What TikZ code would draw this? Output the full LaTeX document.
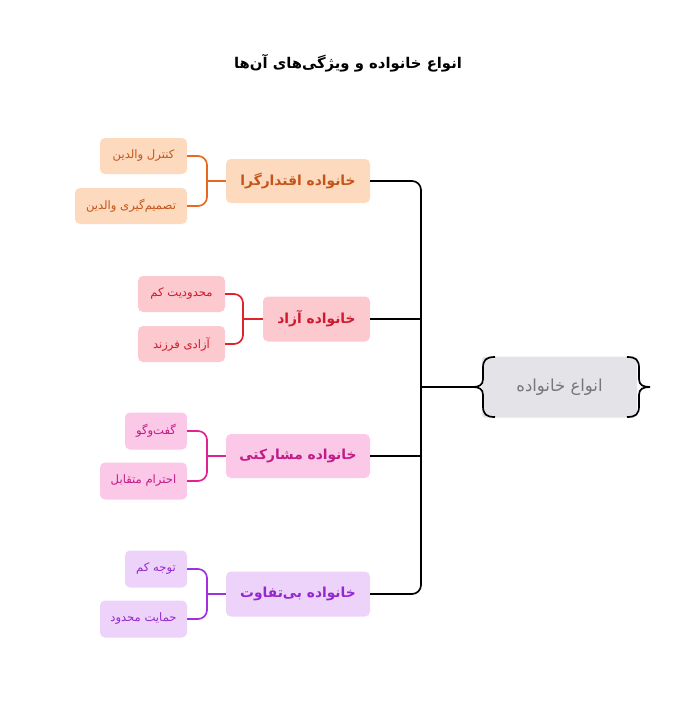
\documentclass[tikz,border=0pt]{standalone}
\usepackage{fontspec}
\newfontfamily\arabicfont[Script=Arabic]{DejaVu Sans}
\TeXXeTstate=1
\definecolor{oFill}{HTML}{FDD9BE}
\definecolor{oText}{HTML}{C4551A}
\definecolor{oLine}{HTML}{E8681E}
\definecolor{rFill}{HTML}{FBC9CE}
\definecolor{rText}{HTML}{CF1A2E}
\definecolor{rLine}{HTML}{E0222F}
\definecolor{mFill}{HTML}{FBC8E8}
\definecolor{mText}{HTML}{C21A86}
\definecolor{mLine}{HTML}{E02295}
\definecolor{pFill}{HTML}{EDD3FA}
\definecolor{pText}{HTML}{9428CF}
\definecolor{pLine}{HTML}{A22FE0}
\definecolor{rootFill}{HTML}{E4E4E8}
\definecolor{rootText}{HTML}{777777}
\tikzset{
  box/.style={rounded corners=5pt, inner sep=0pt, align=center},
  mainbox/.style={box, font=\arabicfont\bfseries\fontsize{13.8}{16}\selectfont},
  leafbox/.style={box, font=\arabicfont\fontsize{11.6}{14}\selectfont},
  link/.style={line width=1.7pt, rounded corners=9pt},
}
\newcommand{\rtl}[1]{\beginR #1\endR}
\begin{document}
\begin{tikzpicture}[x=1pt,y=-1pt]
\useasboundingbox (0,0) rectangle (700,725);
% title
\node[font=\arabicfont\bfseries\fontsize{14.8}{17}\selectfont] (title) at (348,63) {\rtl{انواع خانواده و ویژگی‌های آن‌ها}};
% root
\node[box, fill=rootFill, text=rootText, minimum width=155pt, minimum height=61pt, rounded corners=3pt, font=\arabicfont\fontsize{16.5}{19}\selectfont] (root) at (559.5,387) {\rtl{انواع خانواده}};
% braces
\coordinate (lb) at (473,387);
\coordinate (rb) at (650,387);
\draw[line width=1.7pt] (495,357) .. controls (486,357) and (483,360) .. (483,368) -- (483,379) .. controls (483,385) and (479,387) .. (lb) .. controls (479,387) and (483,389) .. (483,395) -- (483,406) .. controls (483,414) and (486,417) .. (495,417);
\draw[line width=1.7pt] (627,357) .. controls (636,357) and (639,360) .. (639,368) -- (639,379) .. controls (639,385) and (643,387) .. (rb) .. controls (643,387) and (639,389) .. (639,395) -- (639,406) .. controls (639,414) and (636,417) .. (627,417);
% level 1
\node[mainbox, fill=oFill, text=oText, minimum width=144pt, minimum height=44pt] (n1) at (298,181) {\rtl{خانواده اقتدارگرا}};
\node[mainbox, fill=rFill, text=rText, minimum width=107pt, minimum height=45pt] (n2) at (316.5,319) {\rtl{خانواده آزاد}};
\node[mainbox, fill=mFill, text=mText, minimum width=144pt, minimum height=44pt] (n3) at (298,456) {\rtl{خانواده مشارکتی}};
\node[mainbox, fill=pFill, text=pText, minimum width=144pt, minimum height=45pt] (n4) at (298,594) {\rtl{خانواده بی‌تفاوت}};
% leaves
\node[leafbox, fill=oFill, text=oText, minimum width=87pt, minimum height=36pt] (l1a) at (143.5,156) {\rtl{کنترل والدین}};
\node[leafbox, fill=oFill, text=oText, minimum width=112pt, minimum height=36pt] (l1b) at (131,206) {\rtl{تصمیم‌گیری والدین}};
\node[leafbox, fill=rFill, text=rText, minimum width=87pt, minimum height=36pt] (l2a) at (181.5,294) {\rtl{محدودیت کم}};
\node[leafbox, fill=rFill, text=rText, minimum width=87pt, minimum height=36pt] (l2b) at (181.5,344) {\rtl{آزادی فرزند}};
\node[leafbox, fill=mFill, text=mText, minimum width=62pt, minimum height=37pt] (l3a) at (156,431) {\rtl{گفت‌وگو}};
\node[leafbox, fill=mFill, text=mText, minimum width=87pt, minimum height=37pt] (l3b) at (143.5,481) {\rtl{احترام متقابل}};
\node[leafbox, fill=pFill, text=pText, minimum width=62pt, minimum height=37pt] (l4a) at (156,569) {\rtl{توجه کم}};
\node[leafbox, fill=pFill, text=pText, minimum width=87pt, minimum height=37pt] (l4b) at (143.5,619) {\rtl{حمایت محدود}};
% junctions
\coordinate (j1) at (207,181);
\coordinate (j2) at (243,319);
\coordinate (j3) at (207,456);
\coordinate (j4) at (207,594);
\coordinate (spine) at (421,387);
% main connectors
\draw[link, black] (n1.east) -| (spine) |- (n4.east);
\draw[link, black] (n2.east) -- (n2.east -| spine);
\draw[link, black] (n3.east) -- (n3.east -| spine);
\draw[link, black] (spine) -- (lb);
% leaf brackets
\draw[link, oLine] (l1a.east) -| (j1) |- (l1b.east);
\draw[link, oLine] (j1) -- (n1.west);
\draw[link, rLine] (l2a.east) -| (j2) |- (l2b.east);
\draw[link, rLine] (j2) -- (n2.west);
\draw[link, mLine] (l3a.east) -| (j3) |- (l3b.east);
\draw[link, mLine] (j3) -- (n3.west);
\draw[link, pLine] (l4a.east) -| (j4) |- (l4b.east);
\draw[link, pLine] (j4) -- (n4.west);
\end{tikzpicture}
\end{document}
